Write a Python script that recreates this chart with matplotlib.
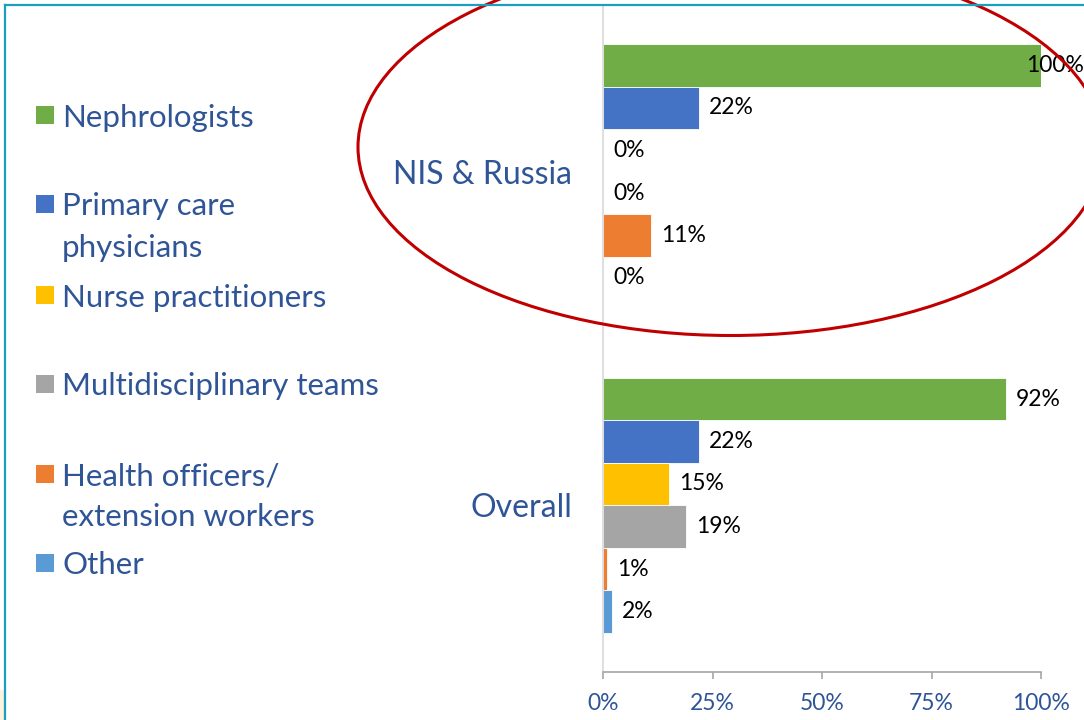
import matplotlib
matplotlib.use("Agg")
import matplotlib.pyplot as plt
from matplotlib.patches import Rectangle, Ellipse
from matplotlib.lines import Line2D
from matplotlib.ticker import FuncFormatter

plt.rcParams['font.family'] = ['Lato', 'DejaVu Sans']

# ---------------- data ----------------
groups = ["Overall", "NIS & Russia"]
series = ["Nephrologists", "Primary care\nphysicians", "Nurse practitioners",
          "Multidisciplinary teams", "Health officers/\nextension workers", "Other"]
colors = ["#70AD47", "#4472C4", "#FFC000", "#A5A5A5", "#ED7D31", "#5B9BD5"]
overall_vals = [92, 22, 15, 19, 1, 2]
nis_vals = [100, 22, 0, 0, 11, 0]
xticks = [0, 25, 50, 75, 100]

W, H = 1084, 720
fig = plt.figure(figsize=(W / 100, H / 100), dpi=100)
fig.patch.set_facecolor("white")

ax = fig.add_axes([603 / W, 1 - 672 / H, 438 / W, 667 / H])
ax.set_xlim(0, 100)
ax.set_ylim(-0.5, 1.5)

bar_h = 42.5 / 333.5
text_blue = "#2F5597"

group_vals = [overall_vals, nis_vals]
for gi, vals in enumerate(group_vals):
    for si, v in enumerate(vals):
        y = gi + (2.5 - si) * bar_h
        ax.barh(y, v, height=bar_h, color=colors[si], edgecolor="white",
                linewidth=0.6 if v > 0 else 0)
        off = 10 if v < 97 else -15
        ax.annotate(f"{v:.0f}%", xy=(v, y), xytext=(off, 0),
                    textcoords="offset pixels", ha="left", va="center",
                    fontsize=16.5, color="black", annotation_clip=False)

# axes styling
for s in ["top", "right"]:
    ax.spines[s].set_visible(False)
ax.spines["left"].set_color("#D9D9D9")
ax.spines["left"].set_linewidth(1.2)
ax.spines["bottom"].set_color("#A6A6A6")
ax.spines["bottom"].set_linewidth(1.2)

ax.set_xticks(xticks)
ax.xaxis.set_major_formatter(FuncFormatter(lambda x, p: f"{x:.0f}%"))
ax.tick_params(axis="x", direction="out", length=5, width=1.2, color="#A6A6A6",
               labelsize=16.5, labelcolor=text_blue, pad=10)
ax.set_yticks([0, 1])
ax.set_yticklabels(groups)
ax.tick_params(axis="y", length=0, pad=22, labelsize=23, labelcolor=text_blue)

# legend (manual)
legend_y = [115, 204, 295, 384, 474, 563]
line_gap = 41
for si, lab in enumerate(series):
    yc = legend_y[si]
    fig.add_artist(Rectangle((36 / W, 1 - (yc + 9) / H), 18 / W, 18 / H,
                             transform=fig.transFigure, facecolor=colors[si],
                             edgecolor="none"))
    for j, line in enumerate(lab.split("\n")):
        fig.text(62 / W, 1 - (yc + j * line_gap) / H, line, ha="left",
                 va="center_baseline", fontsize=22.5, color=text_blue)

# red ellipse highlight
fig.add_artist(Ellipse((731 / W, 1 - 147 / H), 746 / W, 377 / H,
                       transform=fig.transFigure, fill=False,
                       edgecolor="#C00000", linewidth=2.2))

# frame lines
fig.add_artist(Line2D([5 / W, 1], [1 - 5 / H, 1 - 5 / H], transform=fig.transFigure,
                      color="#1A9FC0", linewidth=1.6))
fig.add_artist(Line2D([5 / W, 5 / W], [0, 1 - 5 / H], transform=fig.transFigure,
                      color="#1A9FC0", linewidth=1.6))
fig.add_artist(Rectangle((0, 0), 4 / W, 30 / H, transform=fig.transFigure,
                         facecolor="#FDF1DC", edgecolor="none"))

fig.savefig("out.png", dpi=100)
